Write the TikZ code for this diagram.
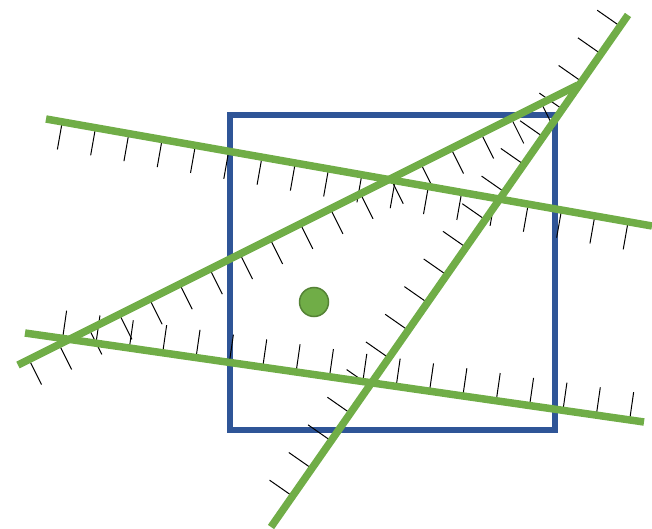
\documentclass[tikz,border=0pt]{standalone}
\usetikzlibrary{decorations.markings}
\definecolor{ogreen}{RGB}{112,173,71}
\definecolor{oblue}{RGB}{47,85,151}
\definecolor{dgreen}{RGB}{84,130,53}
\tikzset{
  greenline/.style={draw=ogreen, line width=7.5pt},
  framebox/.style={draw=oblue, line width=6pt},
  tickline/.style={draw=black, line width=1pt},
  hatch/.style n args={4}{decoration={markings,
      mark=between positions #1 and #2 step #4 with {\draw[tickline] (0pt,0pt) -- (0pt,#3);}},
      decorate},
  dotstyle/.style={circle, fill=ogreen, draw=dgreen, line width=1.5pt, minimum size=29pt, inner sep=0pt}
}
\begin{document}
\begin{tikzpicture}[x=1pt, y=-1pt]
\useasboundingbox (0,0) rectangle (652,529);
% frame
\draw[framebox] (230,115.5) rectangle (554.5,429.7);
% line end points
\coordinate (a1) at (46,119);  \coordinate (a2) at (652,226);
\coordinate (b1) at (18,365);  \coordinate (b2) at (578,85);
\coordinate (c1) at (25,333);  \coordinate (c2) at (644,422);
\coordinate (d1) at (271,527); \coordinate (d2) at (628,15);
% hatching
\path[hatch={16.5pt}{595pt}{-28pt}{33.8pt}] (a1) -- (a2);
\path[hatch={12.3pt}{587pt}{-28pt}{33.7pt}] (b1) -- (b2);
\path[hatch={38pt}{613pt}{28pt}{33.7pt}] (c1) -- (c2);
\path[hatch={37.6pt}{613pt}{28pt}{33.7pt}] (d1) -- (d2);
% green lines
\draw[greenline] (a1) -- (a2);
\draw[greenline] (b1) -- (b2);
\draw[greenline] (c1) -- (c2);
\draw[greenline] (d1) -- (d2);
% dot
\node[dotstyle] (dot) at (314,302) {};
\end{tikzpicture}
\end{document}
